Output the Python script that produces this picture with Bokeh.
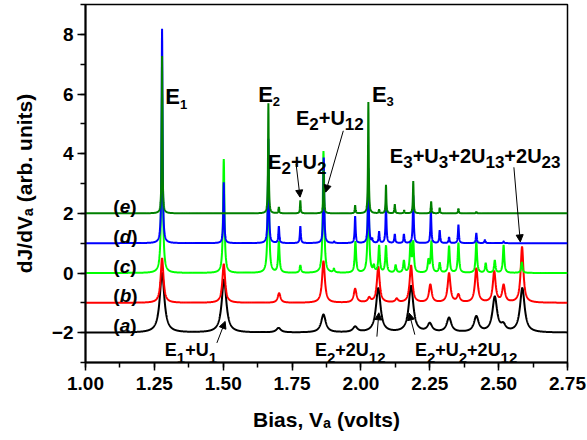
import numpy as np
from bokeh.plotting import figure
from bokeh.models import (Label, Arrow, NormalHead, Range1d, SingleIntervalTicker,
                          PrintfTickFormatter, ColumnDataSource)
from bokeh.embed import file_html
from bokeh.resources import INLINE

# ---------------- data: peak tables ----------------
# (a) black, baseline -2
a_pos = [1.278, 1.503, 1.701, 1.864, 1.979, 2.063, 2.182, 2.250, 2.320, 2.419, 2.486, 2.517, 2.586]
a_amp = [2.00, 1.78, 0.15, 0.60, 0.18, 1.48, 1.55, 0.28, 0.48, 0.52, 1.17, 0.20, 1.48]
# (b) red, baseline -1
b_pos = [1.278, 1.502, 1.703, 1.864, 1.979, 2.030, 2.063, 2.130, 2.182, 2.252, 2.320, 2.354, 2.419, 2.484, 2.518, 2.585]
b_amp = [1.50, 1.30, 0.32, 1.40, 0.46, 0.15, 1.20, 0.12, 1.25, 0.60, 0.98, 0.25, 1.15, 1.04, 0.57, 1.87]
# (c) light green, baseline 0
c_pos = [1.278, 1.502, 1.664, 1.702, 1.780, 1.864, 1.902, 1.980, 2.027, 2.047, 2.066, 2.091, 2.126, 2.156,
         2.180, 2.190, 2.245, 2.256, 2.286, 2.320, 2.354, 2.419, 2.453, 2.486, 2.518, 2.584]
c_amp = [6.00, 3.82, 3.80, 1.05, 0.25, 4.08, 0.12, 1.05, 3.00, 0.20, 0.90, 0.90, 0.25, 0.40,
         1.00, 1.00, 0.40, 1.05, 0.33, 0.90, 1.00, 1.05, 0.32, 0.42, 0.93, 0.36]
# (d) blue, baseline 1
d_pos = [1.278, 1.502, 1.664, 1.702, 1.780, 1.865, 1.903, 1.979, 2.027, 2.041, 2.066, 2.091, 2.123, 2.156,
         2.190, 2.254, 2.286, 2.320, 2.354, 2.419, 2.450, 2.518]
d_amp = [7.19, 2.04, 3.50, 0.56, 0.57, 2.87, 0.05, 0.90, 2.50, 0.12, 0.38, 1.30, 0.30, 0.30,
         1.60, 1.10, 0.43, 0.20, 0.62, 0.34, 0.11, 0.06]
# (e) dark green, baseline 2
e_pos = [1.278, 1.664, 1.702, 1.780, 1.865, 1.979, 2.027, 2.066, 2.091, 2.123, 2.157, 2.190, 2.255,
         2.286, 2.354, 2.419]
e_amp = [5.27, 3.69, 0.21, 0.43, 1.43, 0.27, 3.73, 0.12, 0.95, 0.30, 0.10, 1.08, 0.40,
         0.19, 0.16, 0.05]

curve_names = ["a", "b", "c", "d", "e"]
baselines = [-2, -1, 0, 1, 2]
half_widths = [0.010, 0.006, 0.003, 0.002, 0.0015]
colors = ["#000000", "#ff0000", "#00ff00", "#0000ff", "#008000"]
peak_tables = [(a_pos, a_amp), (b_pos, b_amp), (c_pos, c_amp), (d_pos, d_amp), (e_pos, e_amp)]

x_ticks_interval = 0.25
y_ticks_interval = 2
x_title = "Bias, V\u2090 (volts)"
y_title = "dJ/dV\u2090 (arb. units)"

FONT = "Liberation Sans"

# ---------------- figure ----------------
p = figure(width=587, height=440, x_range=Range1d(1.0, 2.75), y_range=Range1d(-3, 9),
           output_backend="svg", toolbar_location=None,
           min_border_left=85, min_border_right=20, min_border_top=4, min_border_bottom=78)
p.xgrid.visible = False
p.ygrid.visible = False
p.outline_line_color = "black"
p.outline_line_width = 1.5
p.outline_line_alpha = 1.0
p.background_fill_color = "white"
p.border_fill_color = "white"

p.xaxis.ticker = SingleIntervalTicker(interval=x_ticks_interval, num_minor_ticks=2)
p.xaxis.formatter = PrintfTickFormatter(format="%.2f")
p.yaxis.ticker = SingleIntervalTicker(interval=y_ticks_interval, num_minor_ticks=2)
p.xaxis.axis_label = x_title
p.yaxis.axis_label = y_title
for ax in (p.xaxis[0], p.yaxis[0]):
    ax.axis_line_width = 2
    ax.axis_line_color = "black"
    ax.major_tick_line_width = 1.5
    ax.minor_tick_line_width = 1.5
    ax.major_tick_line_color = "black"
    ax.minor_tick_line_color = "black"
    ax.major_tick_out = 8
    ax.major_tick_in = 0
    ax.minor_tick_out = 5
    ax.minor_tick_in = 0
    ax.major_label_text_font = FONT
    ax.major_label_text_font_size = "19px"
    ax.major_label_text_font_style = "bold"
    ax.major_label_text_color = "black"
    ax.axis_label_text_font = FONT
    ax.axis_label_text_font_size = "21px"
    ax.axis_label_text_font_style = "bold"
    ax.axis_label_text_color = "black"
p.xaxis.major_label_standoff = 6
p.yaxis.major_label_standoff = 4
p.xaxis.axis_label_standoff = 15
p.yaxis.axis_label_standoff = 13

# ---------------- curves ----------------
xs = np.linspace(1.0, 2.75, 3501)
all_peaks = np.concatenate([np.asarray(t[0]) for t in peak_tables])
xs = np.union1d(xs, all_peaks)
for name, base, g, col, (pos, amp) in zip(curve_names, baselines, half_widths, colors, peak_tables):
    ys = np.full_like(xs, float(base))
    for x0, h in zip(pos, amp):
        ys += h * g * g / ((xs - x0) ** 2 + g * g)
    src = ColumnDataSource(dict(x=xs, y=ys))
    p.line("x", "y", source=src, line_color=col, line_width=2)

# ---------------- rich text helper ----------------
W = {'E': 667, 'U': 722, '+': 584, '(': 333, ')': 333, ' ': 278, ',': 278, '.': 278, '/': 278,
     'B': 722, 'i': 278, 'a': 556, 's': 556, 'V': 667, 'v': 556, 'o': 611, 'l': 278, 't': 333,
     'd': 611, 'J': 556, 'r': 389, 'b': 611, 'u': 611, 'n': 611, 'c': 556, 'e': 556}
for ch in "0123456789":
    W[ch] = 556


def tw(text, size):
    return sum(W.get(ch, 556) for ch in text) * size / 1000.0


def rich(runs, x, y, xo=0.0, yo=0.0):
    adv = 0.0
    for t, s, d, st in runs:
        p.add_layout(Label(x=x, y=y, text=t, text_font=FONT, text_font_size=f"{s}px",
                           text_font_style=st, text_color="black", text_align="left",
                           text_baseline="alphabetic", x_offset=xo + adv, y_offset=yo - d))
        adv += tw(t, s)


def formula(parts, x, y, main, sub, drop):
    runs = []
    for t, is_sub in parts:
        runs.append((t, sub if is_sub else main, drop if is_sub else 0, "bold"))
    rich(runs, x, y)


# top labels
formula([("E", 0), ("1", 1)], 1.290, 5.93, 22, 13, 8)
formula([("E", 0), ("2", 1)], 1.627, 6.00, 22, 13, 7)
formula([("E", 0), ("3", 1)], 2.040, 6.00, 22, 13, 7)
formula([("E", 0), ("2", 1), ("+U", 0), ("12", 1)], 1.764, 5.20, 20, 17, 6)
formula([("E", 0), ("2", 1), ("+U", 0), ("2", 1)], 1.663, 3.71, 20, 17, 6)
formula([("E", 0), ("3", 1), ("+U", 0), ("3", 1), ("+2U", 0), ("13", 1), ("+2U", 0), ("23", 1)],
        2.105, 3.93, 20, 17, 6)
# bottom labels
formula([("E", 0), ("1", 1), ("+U", 0), ("1", 1)], 1.288, -2.567, 18, 15, 8)
formula([("E", 0), ("2", 1), ("+2U", 0), ("12", 1)], 1.833, -2.567, 18, 15, 8)
formula([("E", 0), ("2", 1), ("+U", 0), ("2", 1), ("+2U", 0), ("12", 1)], 2.196, -2.567, 18, 15, 8)

# curve labels (a)-(e)
for name, base in zip(curve_names, baselines):
    rich([("(", 19, 0, "bold"), (name, 19, 0, "bold italic"), (")", 19, 0, "bold")],
         1.101, base + 0.23)

# arrows
arrows = [
    (1.7645, 3.657, 1.779, 2.543),
    (1.936, 4.767, 1.872, 2.71),
    (2.5554, 3.543, 2.5786, 1.043),
    (1.477, -2.343, 1.507, -1.623),
    (2.058, -2.133, 2.065, -1.333),
    (2.1957, -2.067, 2.175, -1.343),
]
for xs0, ys0, xe, ye in arrows:
    p.add_layout(Arrow(end=NormalHead(size=7, fill_color="black", line_color="black", line_width=1),
                       x_start=xs0, y_start=ys0, x_end=xe, y_end=ye,
                       line_color="black", line_width=1))

open("out.html", "w").write(file_html(p, INLINE))
